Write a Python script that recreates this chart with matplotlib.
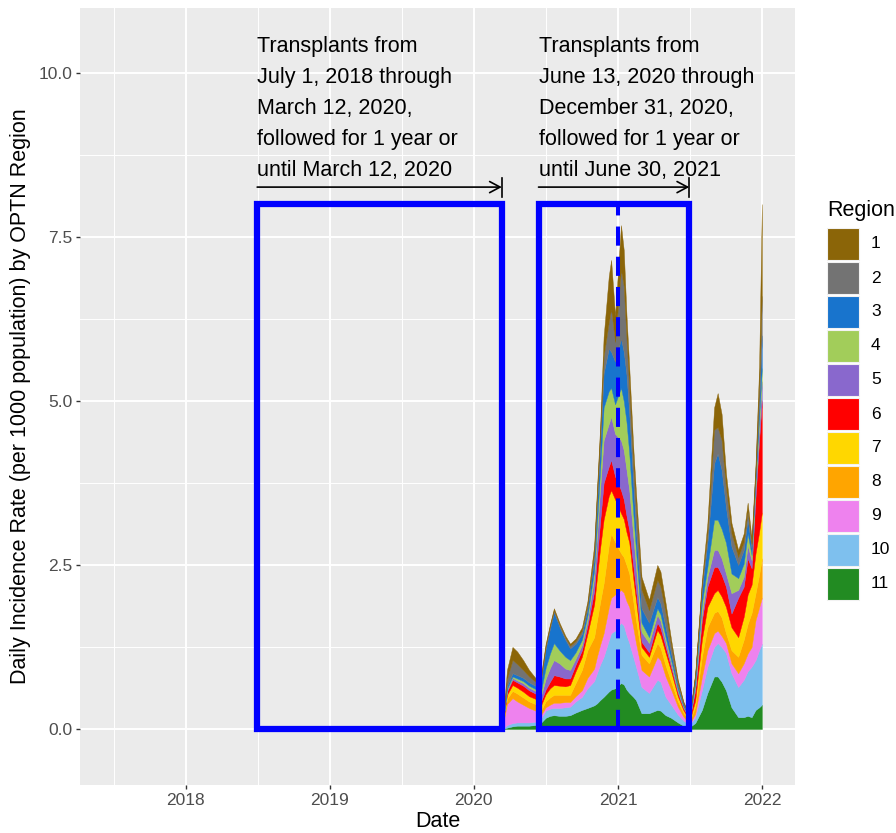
import matplotlib
matplotlib.use("Agg")
import matplotlib.pyplot as plt
import matplotlib.dates as mdates
from matplotlib.patches import Rectangle
import pandas as pd

# Arial-metric font, with DejaVu as fallback
plt.rcParams["font.family"] = ["Liberation Sans", "DejaVu Sans"]

# ---- data: daily incidence rate (per 1000 population) by OPTN region ----
dates = pd.to_datetime([
    "2020-03-15", "2020-03-25", "2020-04-08", "2020-04-20", "2020-05-05", "2020-05-20",
    "2020-06-05", "2020-06-20", "2020-07-01", "2020-07-12", "2020-07-22", "2020-08-05",
    "2020-08-20", "2020-09-01", "2020-09-15", "2020-10-01", "2020-10-15", "2020-11-01",
    "2020-11-08", "2020-11-16", "2020-11-25", "2020-12-08", "2020-12-14", "2020-12-24",
    "2021-01-08", "2021-01-15", "2021-01-22", "2021-01-29", "2021-02-08", "2021-02-15",
    "2021-03-01", "2021-03-20", "2021-04-10", "2021-04-18", "2021-05-01", "2021-05-15",
    "2021-06-01", "2021-06-15", "2021-07-01", "2021-07-15", "2021-08-01", "2021-08-15",
    "2021-09-01", "2021-09-10", "2021-09-20", "2021-10-01", "2021-10-15", "2021-11-01",
    "2021-11-15", "2021-11-25", "2021-12-05", "2021-12-15", "2021-12-24", "2021-12-31",
])

region_1 = [.02, .14, .20, .19, .15, .10, .06, .05, .04, .03, .03, .03, .03, .03, .04, .05, .06, .10,
            .10, .12, .30, .70, .75, .40, .68, .55, .35, .30, .25, .22, .20, .16, .23, .23, .15, .09,
            .04, .02, .01, .03, .07, .16, .34, .52, .40, .22, .16, .11, .13, .12, .08, .10, .30, 1.40]
region_2 = [.01, .11, .20, .17, .12, .09, .06, .03, .04, .04, .03, .03, .03, .04, .04, .05, .06, .10,
            .15, .18, .26, .40, .65, .30, 1.05, 1.00, .55, .40, .30, .35, .28, .19, .26, .25, .22, .12,
            .05, .03, .01, .03, .08, .14, .51, .40, .45, .30, .20, .12, .12, .13, .07, .10, .25, .60]
region_3 = [.01, .04, .05, .05, .05, .05, .05, .17, .29, .38, .47, .36, .26, .18, .13, .09, .10, .18,
            .28, .35, .52, .65, .55, .65, .75, .75, .72, .60, .45, .30, .22, .22, .17, .17, .15, .10,
            .05, .02, .01, .10, .20, .37, .86, 1.01, .90, .54, .41, .20, .21, .22, .10, .05, .20, .50]
region_4 = [.01, .02, .02, .03, .03, .03, .03, .08, .17, .22, .26, .20, .18, .15, .10, .08, .08, .12,
            .20, .30, .50, .50, .44, .45, .80, .75, .73, .56, .35, .26, .14, .09, .10, .10, .07, .05,
            .03, .01, .01, .05, .16, .15, .46, .46, .45, .47, .30, .18, .20, .18, .08, .10, .15, .20]
region_5 = [.00, .02, .03, .03, .04, .04, .04, .09, .16, .21, .23, .20, .15, .13, .09, .08, .08, .20,
            .32, .50, .65, .65, .66, .65, .76, .75, .70, .61, .45, .35, .15, .14, .12, .11, .08, .06,
            .03, .02, .01, .05, .10, .15, .26, .26, .25, .20, .31, .12, .15, .20, .12, .16, .20, .30]
region_6 = [.01, .05, .08, .08, .09, .09, .08, .06, .07, .10, .15, .14, .12, .10, .10, .10, .12, .20,
            .30, .40, .56, .45, .46, .35, .35, .30, .25, .19, .20, .15, .08, .07, .11, .11, .09, .06,
            .05, .03, .02, .16, .30, .31, .40, .35, .33, .31, .21, .60, .46, .55, .25, .86, 1.40, 1.70]
region_7 = [.01, .06, .09, .09, .09, .08, .08, .08, .11, .14, .15, .14, .13, .15, .18, .20, .25, .50,
            .65, .82, .97, .75, .66, .65, .61, .58, .50, .47, .35, .31, .12, .10, .20, .19, .19, .16,
            .08, .04, .02, .09, .26, .31, .30, .32, .32, .40, .35, .30, .35, .45, .43, .61, .65, .70]
region_8 = [.01, .08, .11, .12, .11, .10, .10, .07, .09, .11, .12, .12, .11, .11, .20, .31, .42, .48,
            .55, .65, .76, .95, .98, .80, .56, .54, .55, .51, .40, .35, .23, .20, .21, .19, .17, .12,
            .08, .06, .03, .11, .31, .35, .31, .30, .28, .15, .20, .25, .36, .45, .52, .41, .50, .60]
region_9 = [.06, .32, .38, .32, .27, .22, .17, .05, .05, .06, .08, .08, .08, .07, .08, .10, .16, .19,
            .25, .30, .36, .50, .54, .55, .50, .50, .52, .55, .45, .36, .26, .25, .35, .33, .31, .23,
            .12, .06, .02, .05, .20, .25, .21, .19, .17, .15, .15, .21, .25, .27, .30, .61, .65, .70]
region_10 = [.01, .04, .05, .05, .05, .05, .05, .07, .11, .11, .11, .12, .13, .13, .17, .20, .30, .37,
             .46, .54, .61, .78, .86, .88, .92, .90, .83, .76, .61, .51, .40, .31, .46, .44, .28, .20,
             .12, .08, .03, .09, .30, .40, .45, .51, .53, .57, .52, .46, .57, .68, .77, .76, .87, .93]
region_11 = [.00, .02, .04, .05, .05, .05, .06, .10, .17, .20, .21, .20, .20, .21, .25, .29, .32, .36,
             .39, .44, .49, .57, .60, .62, .70, .68, .60, .55, .49, .44, .24, .24, .29, .28, .21, .17,
             .10, .05, .03, .09, .29, .55, .80, .80, .72, .59, .33, .18, .18, .20, .18, .29, .33, .37]

region_names = ["1", "2", "3", "4", "5", "6", "7", "8", "9", "10", "11"]
region_colors = ["#8B6508", "#737373", "#1874CD", "#A2CD5A", "#8968CD", "#FF0000",
                 "#FFD700", "#FFA500", "#EE82EE", "#7EC0EE", "#228B22"]

# study windows
window_1 = ("2018-07-01", "2020-03-12")
window_2 = ("2020-06-13", "2021-06-30")
window_top = 8.0
arrow_y = 8.26
cutoff_date = "2020-12-31"

text_1 = ["Transplants from", "July 1, 2018 through", "March 12, 2020,",
          "followed for 1 year or", "until March 12, 2020"]
text_2 = ["Transplants from", "June 13, 2020 through", "December 31, 2020,",
          "followed for 1 year or", "until June 30, 2021"]

# ---- figure ----
W, H = 896, 833
fig = plt.figure(figsize=(W / 100, H / 100), dpi=100)
ax = fig.add_axes([80 / W, 1 - 785 / H, (795 - 80) / W, (785 - 8) / H])
ax.set_facecolor("#EBEBEB")
for s in ax.spines.values():
    s.set_visible(False)

# stacked area, region 11 at the bottom
series = [region_1, region_2, region_3, region_4, region_5, region_6,
          region_7, region_8, region_9, region_10, region_11]
ax.stackplot(dates, series[::-1], colors=region_colors[::-1],
             linewidth=0.3, edgecolor="face", zorder=2)

d = lambda s: mdates.date2num(pd.Timestamp(s))

# blue windows
for a, b in (window_1, window_2):
    ax.add_patch(Rectangle((d(a), 0), d(b) - d(a), window_top, fill=False,
                           edgecolor="#0000FF", linewidth=4.5, zorder=4))

ax.plot([d(cutoff_date), d(cutoff_date)], [0, window_top], color="#0000FF",
        linewidth=2.9, linestyle=(0, (4.75, 2.75)), dash_capstyle="butt", zorder=5)

# arrows and notes
for (a, b), lines in ((window_1, text_1), (window_2, text_2)):
    ax.annotate("", xy=(d(b), arrow_y), xytext=(d(a), arrow_y),
                arrowprops=dict(arrowstyle="->,head_length=0.75,head_width=0.4",
                                color="black", lw=1.2, shrinkA=0, shrinkB=0), zorder=5)
    ax.plot([d(b), d(b)], [arrow_y - 0.145, arrow_y + 0.145], color="black", lw=1.2, zorder=5)
    for i, line in enumerate(lines):
        ax.text(d(a), 10.32 - i * 0.4726, line, fontsize=15.5, color="black",
                ha="left", va="baseline", zorder=6)

# axes
ax.set_xlim(d("2017-04-08"), d("2022-03-25"))
ax.set_ylim(-0.854, 10.99)
ax.set_xticks([d(f"{y}-01-01") for y in range(2018, 2023)])
ax.set_xticklabels([str(y) for y in range(2018, 2023)])
ax.set_xticks([d(f"{y}-07-02") for y in range(2017, 2022)], minor=True)
ax.set_yticks([0, 2.5, 5, 7.5, 10])
ax.set_yticklabels(["0.0", "2.5", "5.0", "7.5", "10.0"])
ax.set_yticks([1.25, 3.75, 6.25, 8.75], minor=True)
ax.grid(which="major", color="white", linewidth=1.4, zorder=0)
ax.grid(which="minor", color="white", linewidth=0.7, zorder=0)
ax.set_axisbelow(True)
ax.tick_params(which="major", length=3.2, width=1.0, color="#333333",
               labelcolor="#4D4D4D", labelsize=12.5, pad=2.5)
ax.tick_params(which="minor", length=0)

ax.set_xlabel("Date", fontsize=15.5, color="black", labelpad=2)
ax.set_ylabel("Daily Incidence Rate (per 1000 population) by OPTN Region",
              fontsize=15.5, color="black", labelpad=5)

# legend: one square key per region, drawn in figure pixels
fig.text(827 / W, 1 - 216 / H, "Region", fontsize=15.5, color="black",
         ha="left", va="baseline")
for i, (name, color) in enumerate(zip(region_names, region_colors)):
    top = 228 + 34 * i
    fig.add_artist(Rectangle((827 / W, 1 - (top + 32) / H), 32 / W, 32 / H,
                             transform=fig.transFigure, facecolor=color,
                             edgecolor="#F2F2F2", linewidth=0.8))
    fig.text(871 / W, 1 - (top + 16) / H, name, fontsize=12.5, color="black",
             ha="left", va="center")

fig.savefig("out.png", dpi=100, facecolor="white")
